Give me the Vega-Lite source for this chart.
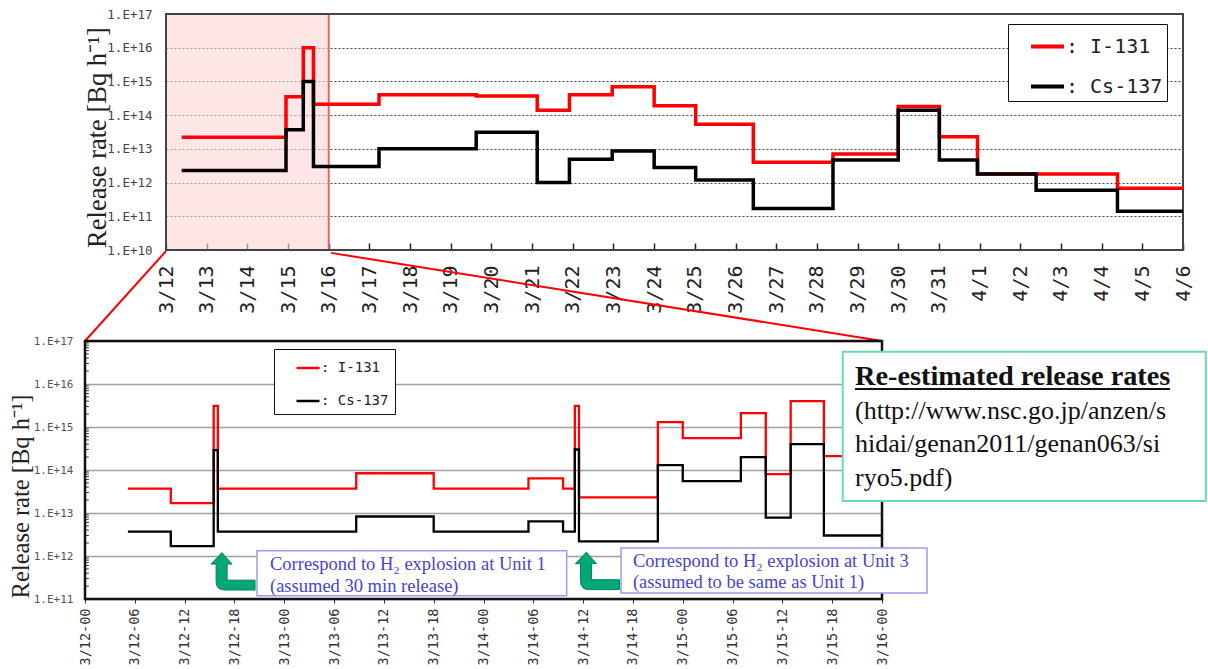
{
  "$schema": "https://vega.github.io/schema/vega-lite/v6.json",
  "width": 1208,
  "height": 669,
  "autosize": "none",
  "padding": 0,
  "background": "white",
  "config": {"view": {"stroke": null}},
  "datasets": {
    "top": [
      {"s": "I-131", "t": "2011-03-12T09:15", "v": 2.2e13},
      {"s": "I-131", "t": "2011-03-14T22:48", "v": 3.5e14},
      {"s": "I-131", "t": "2011-03-15T09:00", "v": 1e16},
      {"s": "I-131", "t": "2011-03-15T15:00", "v": 2.1e14},
      {"s": "I-131", "t": "2011-03-17T05:40", "v": 4e14},
      {"s": "I-131", "t": "2011-03-19T15:00", "v": 3.7e14},
      {"s": "I-131", "t": "2011-03-21T03:00", "v": 1.4e14},
      {"s": "I-131", "t": "2011-03-21T22:00", "v": 4e14},
      {"s": "I-131", "t": "2011-03-22T23:15", "v": 7e14},
      {"s": "I-131", "t": "2011-03-24T00:00", "v": 1.9e14},
      {"s": "I-131", "t": "2011-03-25T00:30", "v": 5.4e13},
      {"s": "I-131", "t": "2011-03-26T10:30", "v": 4e12},
      {"s": "I-131", "t": "2011-03-28T09:30", "v": 7e12},
      {"s": "I-131", "t": "2011-03-30T00:00", "v": 1.8e14},
      {"s": "I-131", "t": "2011-03-31T00:15", "v": 2.3e13},
      {"s": "I-131", "t": "2011-03-31T22:45", "v": 1.8e12},
      {"s": "I-131", "t": "2011-04-04T09:20", "v": 6.8e11},
      {"s": "I-131", "t": "2011-04-06T00:00", "v": 6.8e11},
      {"s": "Cs-137", "t": "2011-03-12T09:15", "v": 2.3e12},
      {"s": "Cs-137", "t": "2011-03-14T22:48", "v": 3.7e13},
      {"s": "Cs-137", "t": "2011-03-15T09:00", "v": 1e15},
      {"s": "Cs-137", "t": "2011-03-15T15:00", "v": 3e12},
      {"s": "Cs-137", "t": "2011-03-17T05:40", "v": 1e13},
      {"s": "Cs-137", "t": "2011-03-19T15:00", "v": 3.1e13},
      {"s": "Cs-137", "t": "2011-03-21T03:00", "v": 1e12},
      {"s": "Cs-137", "t": "2011-03-21T22:00", "v": 4.9e12},
      {"s": "Cs-137", "t": "2011-03-22T23:15", "v": 8.7e12},
      {"s": "Cs-137", "t": "2011-03-24T00:00", "v": 2.8e12},
      {"s": "Cs-137", "t": "2011-03-25T00:30", "v": 1.2e12},
      {"s": "Cs-137", "t": "2011-03-26T10:30", "v": 1.7e11},
      {"s": "Cs-137", "t": "2011-03-28T09:30", "v": 4.7e12},
      {"s": "Cs-137", "t": "2011-03-30T00:00", "v": 1.4e14},
      {"s": "Cs-137", "t": "2011-03-31T00:15", "v": 4.7e12},
      {"s": "Cs-137", "t": "2011-03-31T22:45", "v": 1.8e12},
      {"s": "Cs-137", "t": "2011-04-02T09:20", "v": 5.9e11},
      {"s": "Cs-137", "t": "2011-04-04T09:20", "v": 1.4e11},
      {"s": "Cs-137", "t": "2011-04-06T00:00", "v": 1.4e11}
    ],
    "bot": [
      {"s": "I-131", "t": "2011-03-12T05:10", "v": 3.7e13},
      {"s": "I-131", "t": "2011-03-12T10:20", "v": 1.7e13},
      {"s": "I-131", "t": "2011-03-12T15:30", "v": 3.1e15},
      {"s": "I-131", "t": "2011-03-12T16:00", "v": 3.7e13},
      {"s": "I-131", "t": "2011-03-13T08:40", "v": 8.4e13},
      {"s": "I-131", "t": "2011-03-13T18:00", "v": 3.7e13},
      {"s": "I-131", "t": "2011-03-14T05:25", "v": 6.4e13},
      {"s": "I-131", "t": "2011-03-14T09:35", "v": 3.7e13},
      {"s": "I-131", "t": "2011-03-14T11:00", "v": 3.1e15},
      {"s": "I-131", "t": "2011-03-14T11:30", "v": 2.3e13},
      {"s": "I-131", "t": "2011-03-14T21:00", "v": 1.3e15},
      {"s": "I-131", "t": "2011-03-15T00:00", "v": 5.5e14},
      {"s": "I-131", "t": "2011-03-15T07:00", "v": 2.1e15},
      {"s": "I-131", "t": "2011-03-15T10:00", "v": 8e13},
      {"s": "I-131", "t": "2011-03-15T13:00", "v": 4e15},
      {"s": "I-131", "t": "2011-03-15T17:00", "v": 2.1e14},
      {"s": "I-131", "t": "2011-03-16T00:00", "v": 2.1e14},
      {"s": "Cs-137", "t": "2011-03-12T05:10", "v": 3.7e12},
      {"s": "Cs-137", "t": "2011-03-12T10:20", "v": 1.7e12},
      {"s": "Cs-137", "t": "2011-03-12T15:30", "v": 2.9e14},
      {"s": "Cs-137", "t": "2011-03-12T16:00", "v": 3.7e12},
      {"s": "Cs-137", "t": "2011-03-13T08:40", "v": 8.3e12},
      {"s": "Cs-137", "t": "2011-03-13T18:00", "v": 3.7e12},
      {"s": "Cs-137", "t": "2011-03-14T05:25", "v": 6.4e12},
      {"s": "Cs-137", "t": "2011-03-14T09:35", "v": 3.7e12},
      {"s": "Cs-137", "t": "2011-03-14T11:00", "v": 3e14},
      {"s": "Cs-137", "t": "2011-03-14T11:30", "v": 2.2e12},
      {"s": "Cs-137", "t": "2011-03-14T21:00", "v": 1.3e14},
      {"s": "Cs-137", "t": "2011-03-15T00:00", "v": 5.5e13},
      {"s": "Cs-137", "t": "2011-03-15T07:00", "v": 2e14},
      {"s": "Cs-137", "t": "2011-03-15T10:00", "v": 7.8e12},
      {"s": "Cs-137", "t": "2011-03-15T13:00", "v": 4e14},
      {"s": "Cs-137", "t": "2011-03-15T17:00", "v": 3e12},
      {"s": "Cs-137", "t": "2011-03-16T00:00", "v": 3e12}
    ],
    "minorTicks": [
      {"t": "2011-03-12T00:00", "v": 2e11}, {"t": "2011-03-12T00:00", "v": 3e11}, {"t": "2011-03-12T00:00", "v": 4e11}, {"t": "2011-03-12T00:00", "v": 5e11}, {"t": "2011-03-12T00:00", "v": 6e11}, {"t": "2011-03-12T00:00", "v": 7e11}, {"t": "2011-03-12T00:00", "v": 8e11}, {"t": "2011-03-12T00:00", "v": 9e11},
      {"t": "2011-03-12T00:00", "v": 2e12}, {"t": "2011-03-12T00:00", "v": 3e12}, {"t": "2011-03-12T00:00", "v": 4e12}, {"t": "2011-03-12T00:00", "v": 5e12}, {"t": "2011-03-12T00:00", "v": 6e12}, {"t": "2011-03-12T00:00", "v": 7e12}, {"t": "2011-03-12T00:00", "v": 8e12}, {"t": "2011-03-12T00:00", "v": 9e12},
      {"t": "2011-03-12T00:00", "v": 2e13}, {"t": "2011-03-12T00:00", "v": 3e13}, {"t": "2011-03-12T00:00", "v": 4e13}, {"t": "2011-03-12T00:00", "v": 5e13}, {"t": "2011-03-12T00:00", "v": 6e13}, {"t": "2011-03-12T00:00", "v": 7e13}, {"t": "2011-03-12T00:00", "v": 8e13}, {"t": "2011-03-12T00:00", "v": 9e13},
      {"t": "2011-03-12T00:00", "v": 2e14}, {"t": "2011-03-12T00:00", "v": 3e14}, {"t": "2011-03-12T00:00", "v": 4e14}, {"t": "2011-03-12T00:00", "v": 5e14}, {"t": "2011-03-12T00:00", "v": 6e14}, {"t": "2011-03-12T00:00", "v": 7e14}, {"t": "2011-03-12T00:00", "v": 8e14}, {"t": "2011-03-12T00:00", "v": 9e14},
      {"t": "2011-03-12T00:00", "v": 2e15}, {"t": "2011-03-12T00:00", "v": 3e15}, {"t": "2011-03-12T00:00", "v": 4e15}, {"t": "2011-03-12T00:00", "v": 5e15}, {"t": "2011-03-12T00:00", "v": 6e15}, {"t": "2011-03-12T00:00", "v": 7e15}, {"t": "2011-03-12T00:00", "v": 8e15}, {"t": "2011-03-12T00:00", "v": 9e15},
      {"t": "2011-03-12T00:00", "v": 2e16}, {"t": "2011-03-12T00:00", "v": 3e16}, {"t": "2011-03-12T00:00", "v": 4e16}, {"t": "2011-03-12T00:00", "v": 5e16}, {"t": "2011-03-12T00:00", "v": 6e16}, {"t": "2011-03-12T00:00", "v": 7e16}, {"t": "2011-03-12T00:00", "v": 8e16}, {"t": "2011-03-12T00:00", "v": 9e16}
    ],
    "zoomWin": [{"t": "2011-03-12T00:00", "t2": "2011-03-16T00:00", "v": 1e10, "v2": 1e17}],
    "topFrame": [{"t": "2011-03-12T00:00", "t2": "2011-04-06T00:00", "v": 1e10, "v2": 1e17}],
    "botFrame": [{"t": "2011-03-12T00:00", "t2": "2011-03-16T00:00", "v": 1e11, "v2": 1e17}],
    "connectors": [
      {"t": "2011-03-12T09:45", "v": 1.23e19, "t2": "2011-03-12T00:00", "v2": 1e17},
      {"t": "2011-03-13T05:38", "v": 1.12e19, "t2": "2011-03-16T00:00", "v2": 1e17}
    ],
    "arrows": [
      {"t": "2011-03-12T17:50", "v": 4.4e11},
      {"t": "2011-03-14T13:44", "v": 4.5e11}
    ],
    "noteBoxes": [
      {"t": "2011-03-12T20:43", "t2": "2011-03-14T10:01", "v": 1.19e11, "v2": 1.33e12},
      {"t": "2011-03-14T16:34", "t2": "2011-03-16T05:25", "v": 1.38e11, "v2": 1.53e12}
    ],
    "noteText": [
      {"t": "2011-03-12T22:17", "v": 4.72e11, "txt": "Correspond to H₂ explosion at Unit 1"},
      {"t": "2011-03-12T22:17", "v": 1.48e11, "txt": "(assumed 30 min release)"},
      {"t": "2011-03-14T18:00", "v": 5.64e11, "txt": "Correspond to H₂ explosion at Unit 3"},
      {"t": "2011-03-14T18:00", "v": 1.8e11, "txt": "(assumed to be same as Unit 1)"}
    ],
    "srcBox": [{"t": "2011-03-15T19:16", "t2": "2011-03-17T15:00", "v": 1.9e13, "v2": 5.64e16}],
    "srcTitle": [{"t": "2011-03-15T20:45", "v": 9.48e15, "txt": "Re-estimated release rates"}],
    "srcLine": [{"t": "2011-03-15T20:45", "t2": "2011-03-17T10:42", "v": 7.66e15}],
    "srcBody": [
      {"t": "2011-03-15T20:45", "v": 1.53e15, "txt": "(http://www.nsc.go.jp/anzen/s"},
      {"t": "2011-03-15T20:45", "v": 2.62e14, "txt": "hidai/genan2011/genan063/si"},
      {"t": "2011-03-15T20:45", "v": 4.25e13, "txt": "ryo5.pdf)"}
    ]
  },
  "layer": [
    {
      "encoding": {
        "x": {
          "field": "t", "type": "temporal",
          "scale": {"domain": [{"year": 2011, "month": 3, "date": 12}, {"year": 2011, "month": 4, "date": 6}], "range": [166, 1183], "nice": false},
          "axis": {"orient": "bottom", "offset": -419, "title": null, "tickCount": {"interval": "day", "step": 1}, "format": "%-m/%-d", "labelAngle": 270, "labelAlign": "right", "labelBaseline": "middle", "labelFont": "DejaVu Sans Mono", "labelFontSize": 20, "labelColor": "#222", "labelPadding": 22, "labelFlush": false, "labelOverlap": false, "labelBound": false, "tickSize": -7, "tickColor": "#222", "tickWidth": 1.5, "domain": false, "grid": false}
        },
        "y": {
          "field": "v", "type": "quantitative",
          "scale": {"type": "log", "domain": [1e10, 1e17], "range": [250, 14], "nice": false},
          "axis": {"orient": "left", "offset": -166, "values": [1e10, 1e11, 1e12, 1e13, 1e14, 1e15, 1e16, 1e17], "labelExpr": "'1.E+' + round(log(datum.value)/LN10)", "labelFont": "DejaVu Sans Mono", "labelFontSize": 12.5, "labelColor": "#444", "labelPadding": 14, "ticks": false, "domain": false, "grid": true, "gridColor": "#444", "gridDash": [2, 2], "gridWidth": 1, "title": "Release rate [Bq h⁻¹]", "titleFont": "Liberation Serif", "titleFontSize": 26.5, "titleFontWeight": "normal", "titleColor": "#222", "titleX": -69, "titleY": 137, "titleAngle": 270, "titleAlign": "center", "titleBaseline": "middle"}
        }
      },
      "layer": [
        {"data": {"name": "zoomWin"}, "mark": {"type": "rect", "fill": "#ffd6d6", "fillOpacity": 0.6, "stroke": "#f06060", "strokeWidth": 2}, "encoding": {"x2": {"field": "t2"}, "y2": {"field": "v2"}}},
        {"data": {"name": "topFrame"}, "mark": {"type": "rect", "filled": false, "stroke": "#444", "strokeWidth": 2}, "encoding": {"x2": {"field": "t2"}, "y2": {"field": "v2"}}},
        {
          "data": {"name": "top"},
          "mark": {"type": "line", "interpolate": "step-after", "strokeWidth": 3.5},
          "encoding": {
            "color": {
              "field": "s", "type": "nominal",
              "scale": {"domain": ["I-131", "Cs-137"], "range": ["#ff0000", "#000000"]},
              "legend": {"orient": "none", "legendX": 1008, "legendY": 24, "title": null, "symbolType": "stroke", "symbolSize": 1089, "symbolStrokeWidth": 4, "labelFont": "DejaVu Sans Mono", "labelFontSize": 20, "labelColor": "#222", "padding": 4, "symbolOffset": 17, "labelOffset": 0, "rowPadding": 11, "strokeColor": "#111", "fillColor": "white", "labelExpr": "': ' + datum.label"}
            }
          }
        }
      ]
    },
    {
      "encoding": {
        "x": {
          "field": "t", "type": "temporal",
          "scale": {"domain": [{"year": 2011, "month": 3, "date": 12}, {"year": 2011, "month": 3, "date": 16}], "range": [85, 882], "nice": false},
          "axis": {"orient": "bottom", "offset": -70, "title": null,
            "values": [
              {"year": 2011, "month": 3, "date": 12, "hours": 0}, {"year": 2011, "month": 3, "date": 12, "hours": 6}, {"year": 2011, "month": 3, "date": 12, "hours": 12}, {"year": 2011, "month": 3, "date": 12, "hours": 18},
              {"year": 2011, "month": 3, "date": 13, "hours": 0}, {"year": 2011, "month": 3, "date": 13, "hours": 6}, {"year": 2011, "month": 3, "date": 13, "hours": 12}, {"year": 2011, "month": 3, "date": 13, "hours": 18},
              {"year": 2011, "month": 3, "date": 14, "hours": 0}, {"year": 2011, "month": 3, "date": 14, "hours": 6}, {"year": 2011, "month": 3, "date": 14, "hours": 12}, {"year": 2011, "month": 3, "date": 14, "hours": 18},
              {"year": 2011, "month": 3, "date": 15, "hours": 0}, {"year": 2011, "month": 3, "date": 15, "hours": 6}, {"year": 2011, "month": 3, "date": 15, "hours": 12}, {"year": 2011, "month": 3, "date": 15, "hours": 18},
              {"year": 2011, "month": 3, "date": 16, "hours": 0}
            ],
            "format": "%-m/%d-%H", "labelAngle": 270, "labelAlign": "right", "labelBaseline": "middle", "labelFont": "DejaVu Sans Mono", "labelFontSize": 13.5, "labelColor": "#333", "labelPadding": 5, "labelFlush": false, "labelOverlap": false, "labelBound": false, "tickSize": 4, "tickColor": "#333", "domain": false, "grid": false}
        },
        "y": {
          "field": "v", "type": "quantitative",
          "scale": {"type": "log", "domain": [1e11, 1e17], "range": [599, 341], "nice": false},
          "axis": {"orient": "left", "offset": -85, "values": [1e11, 1e12, 1e13, 1e14, 1e15, 1e16, 1e17], "labelExpr": "'1.E+' + round(log(datum.value)/LN10)", "labelFont": "DejaVu Sans Mono", "labelFontSize": 11, "labelColor": "#555", "labelPadding": 12, "ticks": false, "domain": false, "grid": true, "gridColor": "#a0a0a0", "gridWidth": 1.5, "title": "Release rate [Bq h⁻¹]", "titleFont": "Liberation Serif", "titleFontSize": 24.5, "titleFontWeight": "normal", "titleColor": "#222", "titleX": -64, "titleY": 496, "titleAngle": 270, "titleAlign": "center", "titleBaseline": "middle"}
        }
      },
      "layer": [
        {"data": {"name": "connectors"}, "mark": {"type": "rule", "stroke": "#ff0000", "strokeWidth": 2}, "encoding": {"x2": {"field": "t2"}, "y2": {"field": "v2"}}},
        {"data": {"name": "minorTicks"}, "mark": {"type": "rule", "stroke": "#333", "strokeWidth": 1}, "encoding": {"x2": {"datum": {"year": 2011, "month": 3, "date": 12, "minutes": 28}}}},
        {"data": {"name": "botFrame"}, "mark": {"type": "rect", "filled": false, "stroke": "#111", "strokeWidth": 2.5}, "encoding": {"x2": {"field": "t2"}, "y2": {"field": "v2"}}},
        {
          "data": {"name": "bot"},
          "mark": {"type": "line", "interpolate": "step-after", "strokeWidth": 2.3},
          "encoding": {
            "color": {
              "field": "s", "type": "nominal",
              "scale": {"domain": ["I-131", "Cs-137"], "range": ["#ff0000", "#000000"]},
              "legend": {"orient": "none", "legendX": 274, "legendY": 349, "title": null, "symbolType": "stroke", "symbolSize": 529, "symbolStrokeWidth": 2.5, "labelFont": "DejaVu Sans Mono", "labelFontSize": 14, "labelColor": "#222", "padding": 6, "symbolOffset": 15, "labelOffset": 0, "rowPadding": 13, "strokeColor": "#111", "fillColor": "white", "labelExpr": "': ' + datum.label"}
            }
          }
        },
        {"data": {"name": "arrows"}, "mark": {"type": "point", "shape": "M-0.51,-0.85L-1,-0.33L-0.77,-0.33L-0.77,0.49Q-0.77,0.85,-0.36,0.85L1,0.85L1,0.4L-0.27,0.4L-0.27,-0.33L-0.05,-0.33Z", "size": 1936, "filled": true, "fill": "#00a878", "stroke": "#0a7d5c", "strokeWidth": 1, "opacity": 1}, "encoding": {}},
        {"data": {"name": "noteBoxes"}, "mark": {"type": "rect", "fill": "white", "stroke": "#9a9af0", "strokeWidth": 1.5}, "encoding": {"x2": {"field": "t2"}, "y2": {"field": "v2"}}},
        {"data": {"name": "noteText"}, "mark": {"type": "text", "align": "left", "baseline": "alphabetic", "font": "Liberation Serif", "fontSize": 18.5, "fill": "#4545cc"}, "encoding": {"text": {"field": "txt"}}},
        {"data": {"name": "srcBox"}, "mark": {"type": "rect", "fill": "white", "stroke": "#66d9b5", "strokeWidth": 2}, "encoding": {"x2": {"field": "t2"}, "y2": {"field": "v2"}}},
        {"data": {"name": "srcTitle"}, "mark": {"type": "text", "align": "left", "baseline": "alphabetic", "font": "Liberation Serif", "fontSize": 28.3, "fontWeight": "bold", "fill": "#111"}, "encoding": {"text": {"field": "txt"}}},
        {"data": {"name": "srcLine"}, "mark": {"type": "rule", "stroke": "#111", "strokeWidth": 2}, "encoding": {"x2": {"field": "t2"}}},
        {"data": {"name": "srcBody"}, "mark": {"type": "text", "align": "left", "baseline": "alphabetic", "font": "Liberation Serif", "fontSize": 26, "fill": "#111"}, "encoding": {"text": {"field": "txt"}}}
      ]
    }
  ],
  "resolve": {
    "scale": {"x": "independent", "y": "independent", "color": "independent"},
    "axis": {"x": "independent", "y": "independent"},
    "legend": {"color": "independent"}
  }
}
